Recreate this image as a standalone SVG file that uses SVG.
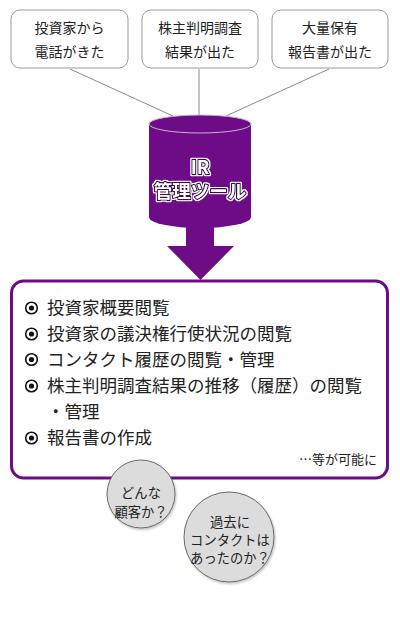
<svg xmlns="http://www.w3.org/2000/svg" width="400" height="630" viewBox="0 0 400 630">
<defs>
<style>
.box{fill:#fff;stroke:#9a9a9a;stroke-width:1}
.t{font-family:"Noto Sans CJK JP","Noto Sans CJK SC",sans-serif;fill:#222}
.tb{font-size:14px;text-anchor:middle}
.li{font-size:17.5px}
.cc{font-size:13.3px;text-anchor:middle}
.con{stroke:#8a8a8a;stroke-width:1;fill:none}
.bul{fill:none;stroke:#111;stroke-width:1.6}
.circ{fill:#dcdcdc;stroke:#6a6a6a;stroke-width:1}
.ir{font-family:"Noto Sans CJK JP",sans-serif;font-weight:bold;font-size:18.5px;text-anchor:middle;fill:#fff;stroke:#3a0a48;stroke-width:2.4;stroke-linejoin:round;paint-order:stroke}
</style>
<filter id="sh" x="-20%" y="-20%" width="140%" height="140%"><feDropShadow dx="1" dy="1.5" stdDeviation="1.2" flood-color="#000" flood-opacity="0.25"/></filter>
<filter id="halo" x="-10%" y="-30%" width="120%" height="160%">
<feMorphology in="SourceAlpha" operator="dilate" radius="1.3" result="d"/>
<feFlood flood-color="#fff"/>
<feComposite in2="d" operator="in" result="w"/>
<feMerge><feMergeNode in="w"/><feMergeNode in="SourceGraphic"/></feMerge>
</filter>
</defs>
<g id="connectors">
<line class="con" x1="70" y1="69" x2="173" y2="116"/>
<line class="con" x1="199" y1="69" x2="199" y2="115"/>
<line class="con" x1="329" y1="69" x2="226" y2="116"/>
</g>
<g id="n1">
<rect class="box" x="11" y="10" width="117" height="58" rx="9"/>
<text class="t tb" x="69.5" y="33">投資家から</text>
<text class="t tb" x="69.5" y="57">電話がきた</text>
</g>
<g id="n2">
<rect class="box" x="142" y="10" width="116" height="58" rx="9"/>
<text class="t tb" x="200" y="33">株主判明調査</text>
<text class="t tb" x="200" y="57">結果が出た</text>
</g>
<g id="n3">
<rect class="box" x="272" y="10" width="116" height="58" rx="9"/>
<text class="t tb" x="330" y="33">大量保有</text>
<text class="t tb" x="330" y="57">報告書が出た</text>
</g>
<g id="irtool">
<rect x="186" y="224" width="28" height="24" fill="#6e0c88"/>
<polygon points="167,246 234,246 200.5,280" fill="#6e0c88"/>
<path d="M149,124 L149,217 A51,11 0 0 0 251,217 L251,124 Z" fill="#6e0c88"/>
<ellipse cx="200" cy="124" rx="51" ry="9" fill="#6e0c88" stroke="#c9b3cf" stroke-width="1"/>
<g filter="url(#halo)">
<text class="ir" x="200" y="174">IR</text>
<text class="ir" x="200" y="198">管理ツール</text>
</g>
</g>
<g id="features">
<rect x="11.5" y="281" width="376" height="197" rx="12" fill="#fff" stroke="#6e0c88" stroke-width="3"/>
<g>
<circle class="bul" cx="31.5" cy="308" r="5.8"/><circle cx="31.5" cy="308" r="2.6" fill="#111"/>
<circle class="bul" cx="31.5" cy="334" r="5.8"/><circle cx="31.5" cy="334" r="2.6" fill="#111"/>
<circle class="bul" cx="31.5" cy="359.5" r="5.8"/><circle cx="31.5" cy="359.5" r="2.6" fill="#111"/>
<circle class="bul" cx="31.5" cy="386" r="5.8"/><circle cx="31.5" cy="386" r="2.6" fill="#111"/>
<circle class="bul" cx="31.5" cy="438" r="5.8"/><circle cx="31.5" cy="438" r="2.6" fill="#111"/>
</g>
<text class="t li" x="47" y="314">投資家概要閲覧</text>
<text class="t li" x="47" y="340">投資家の議決権行使状況の閲覧</text>
<text class="t li" x="47" y="365.5">コンタクト履歴の閲覧・管理</text>
<text class="t li" x="47" y="392">株主判明調査結果の推移（履歴）の閲覧</text>
<text class="t li" x="47" y="418">・管理</text>
<text class="t li" x="47" y="444">報告書の作成</text>
<text class="t" x="377" y="464" font-size="13" text-anchor="end">…等が可能に</text>
</g>
<g id="q1">
<circle class="circ" cx="141" cy="494" r="34" filter="url(#sh)"/>
<text class="t cc" x="141" y="498">どんな</text>
<text class="t cc" x="141" y="517">顧客か？</text>
</g>
<g id="q2">
<circle class="circ" cx="229" cy="537" r="45" filter="url(#sh)"/>
<text class="t cc" x="230" y="527">過去に</text>
<text class="t cc" x="230" y="545">コンタクトは</text>
<text class="t cc" x="230" y="563">あったのか？</text>
</g>
</svg>
